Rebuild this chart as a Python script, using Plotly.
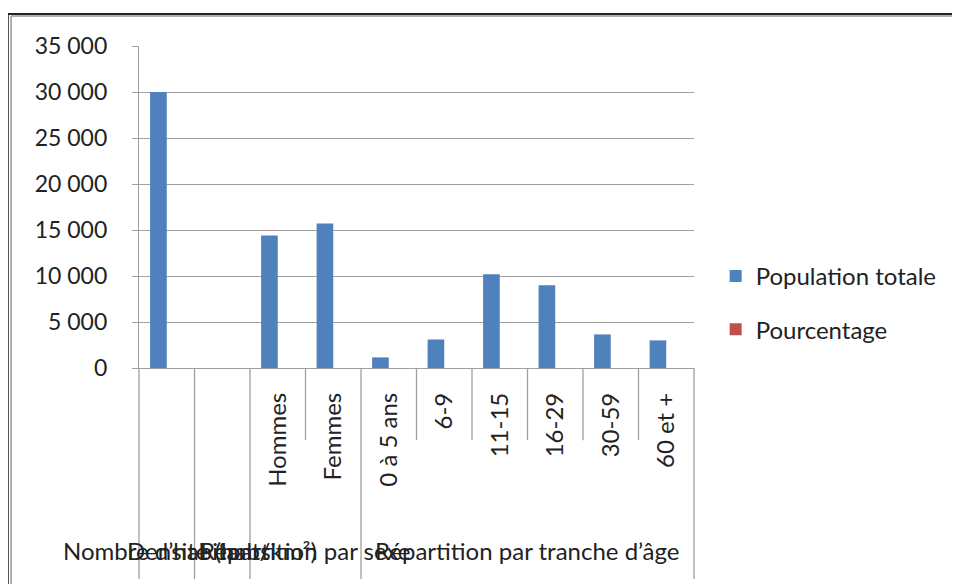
import plotly.graph_objects as go

# ---- data ----
group_labels = ["Nombre d’habitants", "Densité (hab/km²)", "Répartition par sexe",
                "Répartition par tranche d’âge"]
group_sizes = [1, 1, 2, 6]
category_labels = ["", "", "Hommes", "Femmes", "0 à 5 ans", "6-9", "11-15", "16-29",
                   "30-59", "60 et +"]
population_totale = [30000, 0, 14400, 15700, 1150, 3100, 10200, 9000, 3650, 3000]
pourcentage = [0, 0, 0, 0, 0, 0, 0, 0, 0, 0]
y_ticks = [0, 5000, 10000, 15000, 20000, 25000, 30000, 35000]

FONT = "Lato"
FS = 24
FS_Y = 23
n = len(category_labels)
xs = list(range(n))

fig = go.Figure()
fig.add_trace(go.Bar(x=xs, y=population_totale, name="Population totale",
                     legendgroup="a",
                     marker=dict(color="#4f81bd", line=dict(width=0))))
fig.add_trace(go.Bar(x=xs, y=pourcentage, name="Pourcentage",
                     legendgroup="b",
                     marker=dict(color="#c0504d", line=dict(width=0))))

shapes = []
group_bounds = [0]
for s in group_sizes:
    group_bounds.append(group_bounds[-1] + s)
for b in range(n + 1):
    long = b in group_bounds
    shapes.append(dict(type="line", xref="paper", yref="paper",
                       x0=b / n, x1=b / n, y0=0,
                       y1=-0.655 if long else -0.224,
                       line=dict(color="#a0a0a0", width=1.3)))
# outer frame
shapes.append(dict(type="line", xref="paper", yref="paper", x0=-0.236, x1=-0.236,
                   y0=1.099, y1=-0.75, line=dict(color="#222222", width=1.5)))
shapes.append(dict(type="line", xref="paper", yref="paper", x0=-0.2305, x1=-0.2305,
                   y0=1.093, y1=-0.75, line=dict(color="#999999", width=1.5)))
shapes.append(dict(type="line", xref="paper", yref="paper", x0=-0.236, x1=1.6,
                   y0=1.099, y1=1.099, line=dict(color="#222222", width=2)))
shapes.append(dict(type="line", xref="paper", yref="paper", x0=-0.2305, x1=1.6,
                   y0=1.093, y1=1.093, line=dict(color="#999999", width=1.5)))

annotations = []
for i, lab in enumerate(group_labels):
    center = (group_bounds[i] + group_bounds[i + 1]) / 2 / n
    annotations.append(dict(text=lab, xref="paper", yref="paper", x=center, y=-0.568,
                            xanchor="center", yanchor="middle", showarrow=False,
                            font=dict(family=FONT, size=FS, color="#222222")))

fig.update_layout(
    width=960, height=584,
    margin=dict(l=131, r=274, t=38, b=224, pad=0),
    paper_bgcolor="white", plot_bgcolor="white",
    barmode="group", bargap=0.4, bargroupgap=0,
    separators=", ",
    font=dict(family=FONT, size=FS, color="#222222"),
    showlegend=True,
    legend=dict(x=1.039, y=0.202, xanchor="left", yanchor="middle",
                font=dict(family=FONT, size=FS, color="#222222"),
                tracegroupgap=19, itemwidth=30),
    xaxis=dict(range=[-0.5, n - 0.5], tickmode="array", tickvals=xs,
               ticktext=category_labels, tickangle=-90, ticks="",
               showgrid=False, zeroline=False, showline=True, linecolor="#a0a0a0",
               linewidth=1.3, ticklabelstandoff=14,
               tickfont=dict(family=FONT, size=FS, color="#222222")),
    yaxis=dict(range=[0, 35000], tickmode="array", tickvals=y_ticks,
               tickformat=",d", ticks="outside", ticklen=6, tickcolor="#a0a0a0",
               showgrid=True, gridcolor="#a0a0a0", gridwidth=1.3, zeroline=False,
               showline=True, linecolor="#a0a0a0", linewidth=1.3,
               ticklabelstandoff=20,
               tickfont=dict(family=FONT, size=FS_Y, color="#222222")),
    shapes=shapes, annotations=annotations,
)

fig.write_html("out.html")
